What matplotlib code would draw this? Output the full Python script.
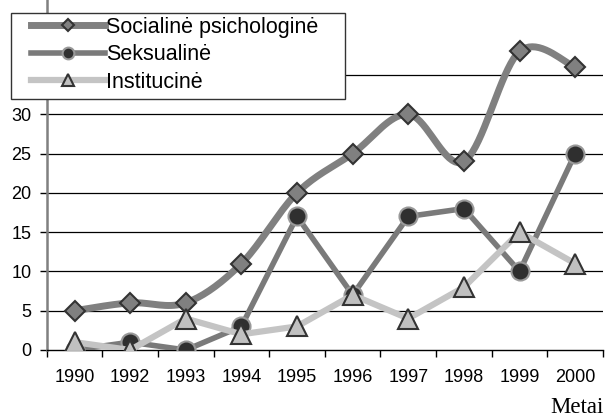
import numpy as np
import matplotlib.pyplot as plt
from matplotlib.patches import Rectangle

plt.rcParams['font.family'] = ['Liberation Sans', 'DejaVu Sans']

years = ['1990', '1992', '1993', '1994', '1995', '1996', '1997', '1998', '1999', '2000']
socialine = [5, 6, 6, 11, 20, 25, 30, 24, 38, 36]
seksualine = [0, 1, 0, 3, 17, 7, 17, 18, 10, 25]
institucine = [1, 0, 4, 2, 3, 7, 4, 8, 15, 11]

W, H = 610, 417


# Excel-like smoothed line (Catmull-Rom through the points)
def smooth(x, y, n=20):
    x = np.asarray(x, float)
    y = np.asarray(y, float)
    px = np.concatenate([[x[0]], x, [x[-1]]])
    py = np.concatenate([[y[0]], y, [y[-1]]])
    xs, ys = [], []
    t = np.linspace(0, 1, n)
    for i in range(1, len(px) - 2):
        for p, out in ((px, xs), (py, ys)):
            p0, p1, p2, p3 = p[i - 1], p[i], p[i + 1], p[i + 2]
            out.extend(0.5 * (2 * p1 + (-p0 + p2) * t
                              + (2 * p0 - 5 * p1 + 4 * p2 - p3) * t ** 2
                              + (-p0 + 3 * p1 - 3 * p2 + p3) * t ** 3))
    return xs, ys


fig = plt.figure(figsize=(W / 100, H / 100), dpi=100)
ax = fig.add_axes([46.7 / W, 1 - 350 / H, (603 - 46.7) / W, 350 / H])

x = np.arange(len(years))

for yv in range(5, 40, 5):
    ax.axhline(yv, color='black', lw=0.9, zorder=1)

st1 = dict(color='#808080', lw=5, marker='D', ms=10, mfc='#808080', mec='#333333', mew=1.5)
st2 = dict(color='#7a7a7a', lw=4, marker='o', ms=13, mfc='#2f2f2f', mec='#999999', mew=1.5)
st3 = dict(color='#c4c4c4', lw=4.5, marker='^', ms=14, mfc='#c0c0c0', mec='#333333', mew=1.5)

sx, sy = smooth(x, socialine)
ax.plot(sx, sy, color=st1['color'], lw=st1['lw'], solid_capstyle='round', zorder=2)
ax.plot(x, socialine, ls='none', marker='D', ms=10, mfc='#808080', mec='#333333', mew=1.5, zorder=3)
ax.plot(x, seksualine, zorder=4, **st2)
ax.plot(x, institucine, zorder=5, **st3)

# legend box drawn by hand so the padding matches
fig.patches.append(Rectangle((11 / W, 1 - 99 / H), (345 - 11) / W, (99 - 12.7) / H,
                             transform=fig.transFigure, facecolor='white',
                             edgecolor='#333333', lw=1, zorder=5))
h1, = ax.plot([], [], **st1)
h2, = ax.plot([], [], **st2)
h3, = ax.plot([], [], **st3)
fs = 15.5
leg = fig.legend([h1, h2, h3], ['Socialinė psichologinė', 'Seksualinė', 'Institucinė'],
                 loc='upper left', bbox_to_anchor=(31 / W, 1 - 17 / H),
                 fontsize=fs, frameon=False, borderaxespad=0, borderpad=0,
                 handlelength=3.45, handletextpad=0.05, labelspacing=0.3,
                 markerscale=0.65)
leg.set_zorder(10)

ax.set_xlim(-0.5, len(years) - 0.5)
ax.set_ylim(0, 350 / 7.857)
ax.set_yticks(range(0, 40, 5))
ax.set_xticks(x)
ax.set_xticklabels(years)
ax.set_xticks(np.arange(-0.5, len(years), 1), minor=True)
ax.tick_params(axis='x', which='major', length=0, pad=14, labelsize=13)
ax.tick_params(axis='x', which='minor', length=5, width=1, color='black')
ax.tick_params(axis='y', length=5, width=1, color='black', pad=6, labelsize=13)

for s in ['top', 'right']:
    ax.spines[s].set_visible(False)
ax.spines['left'].set_color('#808080')
ax.spines['left'].set_linewidth(1.8)
ax.spines['bottom'].set_color('black')
ax.spines['bottom'].set_linewidth(1)

fig.text(604 / W, 1 - 413 / H, 'Metai', family='Liberation Serif', fontsize=16.5,
         ha='right', va='baseline')

fig.savefig('out.png', dpi=100)
